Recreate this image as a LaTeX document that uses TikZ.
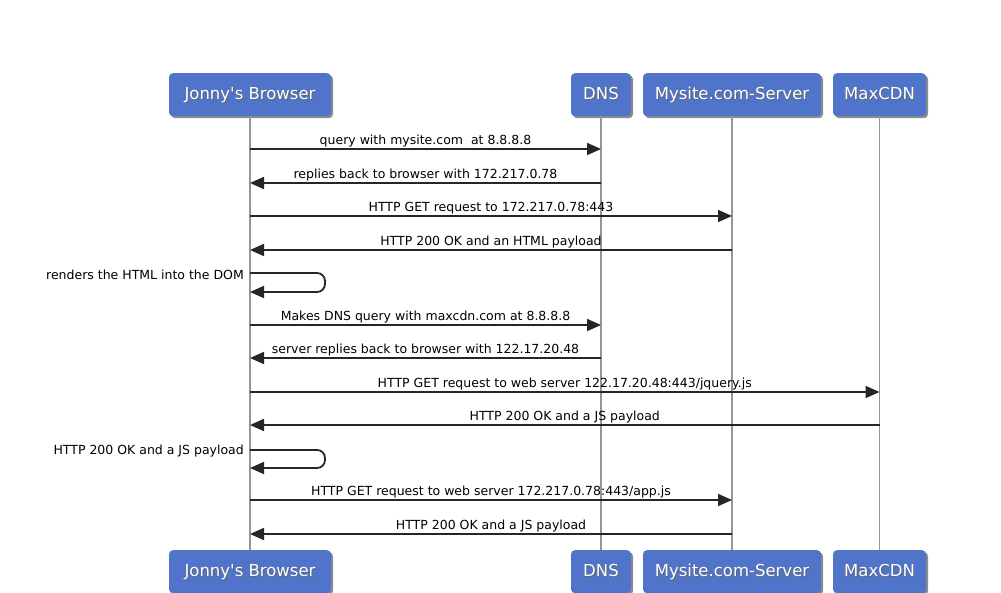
\documentclass[tikz,border=0pt]{standalone}
\usepackage{fontspec}
\setmainfont{DejaVu Sans}
\newfontfamily\titlefont{DejaVu Sans}
\usetikzlibrary{arrows.meta,shadows,calc}
\definecolor{boxblue}{RGB}{80,116,202}
\definecolor{lifegray}{RGB}{150,150,150}
\newcommand{\shtxt}[1]{\makebox[0pt][l]{\hspace{0.9pt}\raisebox{-0.9pt}{\textcolor{black!60}{#1}}}#1}
\begin{document}
\begin{tikzpicture}[x=1pt,y=-1pt,
  actor/.style={fill=boxblue,rounded corners=4pt,text=white,font=\titlefont\fontsize{16.5}{18}\selectfont,
    minimum height=43pt,inner xsep=0pt,anchor=north,text height=12pt,text depth=2pt,
    drop shadow={shadow xshift=2pt,shadow yshift=-2pt,opacity=0.45,fill=black}},
  life/.style={draw=lifegray,line width=1.6pt},
  msg/.style={draw=black!85,line width=1.8pt,-{Triangle[length=14pt,width=12pt]}},
  lbl/.style={above=0pt,font=\fontsize{12.5}{14}\selectfont,text=black,inner sep=1pt,text depth=3pt},
  slbl/.style={anchor=east,font=\fontsize{12.5}{14}\selectfont,text=black,inner sep=1pt,yshift=-1.5pt},
  ]
\useasboundingbox (0,0) rectangle (1001,593);
% top actors
\node[actor,minimum width=162pt] (jbT) at (250,73) {\shtxt{Jonny's Browser}};
\node[actor,minimum width=60pt] (dnsT) at (601,73) {\shtxt{DNS}};
\node[actor,minimum width=178pt] (msT) at (732,73) {\shtxt{Mysite.com-Server}};
\node[actor,minimum width=93pt] (cdnT) at (879.5,73) {\shtxt{MaxCDN}};
% bottom actors
\node[actor,minimum width=162pt] (jbB) at (250,550) {\shtxt{Jonny's Browser}};
\node[actor,minimum width=60pt] (dnsB) at (601,550) {\shtxt{DNS}};
\node[actor,minimum width=178pt] (msB) at (732,550) {\shtxt{Mysite.com-Server}};
\node[actor,minimum width=93pt] (cdnB) at (879.5,550) {\shtxt{MaxCDN}};
% lifelines
\draw[life] (jbT.south) -- (jbB.north);
\draw[life] (dnsT.south) -- (dnsB.north);
\draw[life] (msT.south) -- (msB.north);
\draw[life] (cdnT.south) -- (cdnB.north);
% message coordinates
\foreach \n/\y in {1/149,2/183,3/216,4/250,5/273,6/292,7/325,8/358,9/392,10/425,11/450,12/468,13/500,14/534}{
  \coordinate (b\n) at (jbT.south |- 0,\y);
  \coordinate (d\n) at (dnsT.south |- 0,\y);
  \coordinate (m\n) at (msT.south |- 0,\y);
  \coordinate (c\n) at (cdnT.south |- 0,\y);
}
\draw[msg] (b1) -- node[lbl]{query with mysite.com\ \ at 8.8.8.8} (d1);
\draw[msg] (d2) -- node[lbl]{replies back to browser with 172.217.0.78} (b2);
\draw[msg] (b3) -- node[lbl]{HTTP GET request to 172.217.0.78:443} (m3);
\draw[msg] (m4) -- node[lbl]{HTTP 200 OK and an HTML payload} (b4);
\draw[msg,rounded corners=8pt] (b5) -- ++(75,0) -- ++(0,19) -- (b6);
\node[slbl] (s1) at ($(b5)+(-5,0)$) {renders the HTML into the DOM};
\draw[msg] (b7) -- node[lbl]{Makes DNS query with maxcdn.com at 8.8.8.8} (d7);
\draw[msg] (d8) -- node[lbl]{server replies back to browser with 122.17.20.48} (b8);
\draw[msg] (b9) -- node[lbl]{HTTP GET request to web server 122.17.20.48:443/jquery.js} (c9);
\draw[msg] (c10) -- node[lbl]{HTTP 200 OK and a JS payload} (b10);
\draw[msg,rounded corners=8pt] (b11) -- ++(75,0) -- ++(0,18) -- (b12);
\node[slbl] (s2) at ($(b11)+(-5,0)$) {HTTP 200 OK and a JS payload};
\draw[msg] (b13) -- node[lbl]{HTTP GET request to web server 172.217.0.78:443/app.js} (m13);
\draw[msg] (m14) -- node[lbl]{HTTP 200 OK and a JS payload} (b14);
\end{tikzpicture}
\end{document}
